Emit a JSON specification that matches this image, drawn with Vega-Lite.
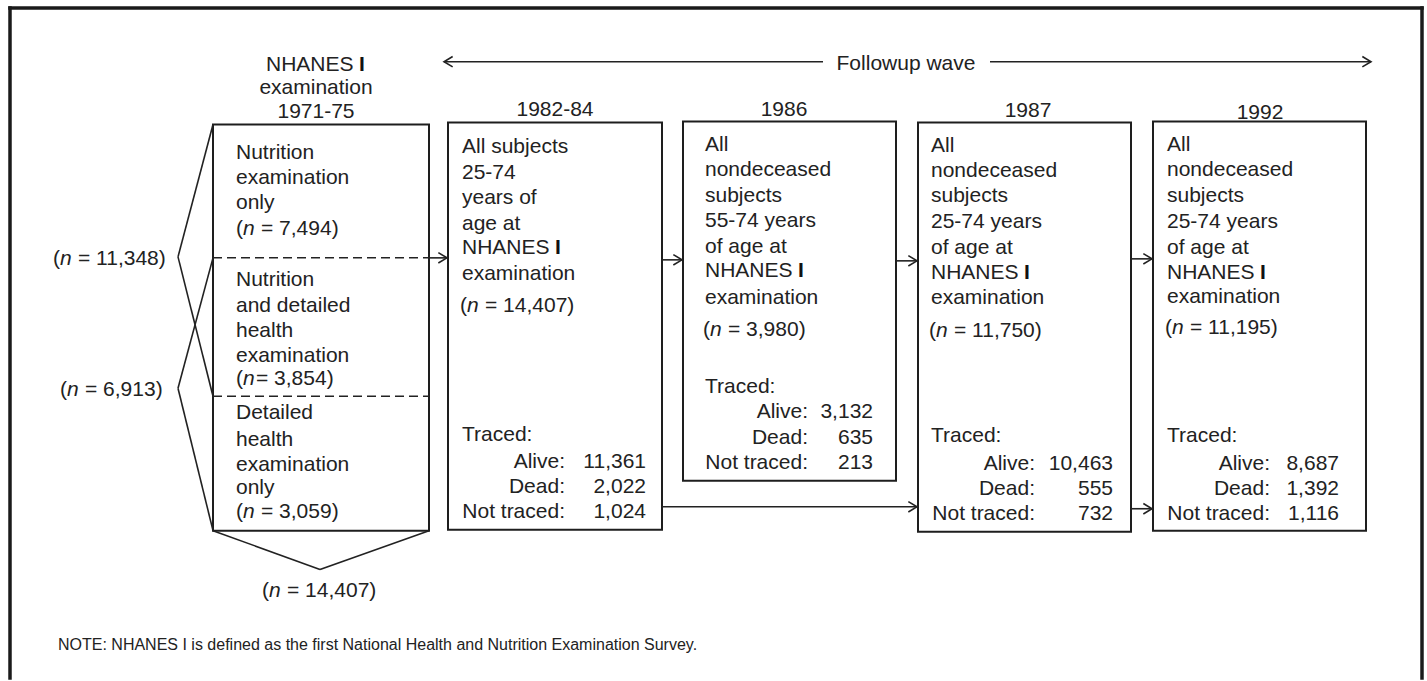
{
  "$schema": "https://vega.github.io/schema/vega-lite/v6.json",
  "width": 1427,
  "height": 681,
  "padding": 0,
  "autosize": {"type": "fit", "contains": "padding"},
  "background": "white",
  "config": {"view": {"stroke": null}},
  "datasets": {
    "borderLines": [
      {"x": 10, "y": 8, "x2": 1422, "y2": 8},
      {"x": 10, "y": 8, "x2": 10, "y2": 681},
      {"x": 1422, "y": 8, "x2": 1422, "y2": 681}
    ],
    "boxes": [
      {"box": "NHANES I 1971-75", "x1": 213, "x2": 429, "y1": 125, "y2": 533},
      {"box": "1982-84", "x1": 448, "x2": 662, "y1": 123, "y2": 532},
      {"box": "1986", "x1": 683, "x2": 896, "y1": 122, "y2": 483},
      {"box": "1987", "x1": 918, "x2": 1131, "y1": 123, "y2": 534},
      {"box": "1992", "x1": 1153, "x2": 1366, "y1": 122, "y2": 533}
    ],
    "dashedLines": [
      {"x": 213, "y": 259, "x2": 429, "y2": 259},
      {"x": 213, "y": 398, "x2": 429, "y2": 398}
    ],
    "solidLines": [
      {"x": 213, "y": 125, "x2": 178, "y2": 258},
      {"x": 178, "y": 258, "x2": 213, "y2": 398},
      {"x": 213, "y": 259, "x2": 178, "y2": 390},
      {"x": 178, "y": 390, "x2": 213, "y2": 533},
      {"x": 213, "y": 533, "x2": 320, "y2": 572},
      {"x": 320, "y": 572, "x2": 429, "y2": 533},
      {"x": 429, "y": 259, "x2": 447, "y2": 259},
      {"x": 662, "y": 261, "x2": 682, "y2": 261},
      {"x": 896, "y": 262, "x2": 917, "y2": 262},
      {"x": 1131, "y": 260, "x2": 1152, "y2": 260},
      {"x": 662, "y": 509, "x2": 917, "y2": 509},
      {"x": 1131, "y": 511, "x2": 1152, "y2": 511},
      {"x": 444, "y": 62, "x2": 823, "y2": 62},
      {"x": 990, "y": 62, "x2": 1371, "y2": 62}
    ],
    "arrowHeads": [
      {"x": 447, "y": 259, "direction": "right"},
      {"x": 682, "y": 261, "direction": "right"},
      {"x": 917, "y": 262, "direction": "right"},
      {"x": 1152, "y": 260, "direction": "right"},
      {"x": 917, "y": 509, "direction": "right"},
      {"x": 1152, "y": 511, "direction": "right"},
      {"x": 1371, "y": 62, "direction": "right"},
      {"x": 444, "y": 62, "direction": "left"}
    ],
    "centeredText": [
      {"text": "examination", "x": 316, "y": 86},
      {"text": "1971-75", "x": 316, "y": 110},
      {"text": "Followup wave", "x": 906, "y": 62},
      {"text": "1982-84", "x": 555, "y": 108},
      {"text": "1986", "x": 784, "y": 108},
      {"text": "1987", "x": 1028, "y": 109},
      {"text": "1992", "x": 1260, "y": 111}
    ],
    "nhanesLabels": [
      {"x": 266, "y": 63},
      {"x": 462, "y": 247},
      {"x": 705, "y": 270},
      {"x": 931, "y": 272},
      {"x": 1167, "y": 272}
    ],
    "sampleSizes": [
      {"x": 236, "y": 228, "rest": "= 7,494)", "gap": "wide"},
      {"x": 236, "y": 379, "rest": "= 3,854)", "gap": "tight"},
      {"x": 236, "y": 512, "rest": "= 3,059)", "gap": "wide"},
      {"x": 460, "y": 305, "rest": "= 14,407)", "gap": "wide"},
      {"x": 703, "y": 329, "rest": "= 3,980)", "gap": "wide"},
      {"x": 929, "y": 330, "rest": "= 11,750)", "gap": "wide"},
      {"x": 1165, "y": 327, "rest": "= 11,195)", "gap": "wide"},
      {"x": 53, "y": 258, "rest": "= 11,348)", "gap": "wide"},
      {"x": 60, "y": 390, "rest": "= 6,913)", "gap": "wide"},
      {"x": 262, "y": 592, "rest": "= 14,407)", "gap": "wide"}
    ],
    "boxText": [
      {"text": "Nutrition", "x": 236, "y": 152},
      {"text": "examination", "x": 236, "y": 177},
      {"text": "only", "x": 236, "y": 202},
      {"text": "Nutrition", "x": 236, "y": 279},
      {"text": "and detailed", "x": 236, "y": 305},
      {"text": "health", "x": 236, "y": 330},
      {"text": "examination", "x": 236, "y": 356},
      {"text": "Detailed", "x": 236, "y": 413},
      {"text": "health", "x": 236, "y": 440},
      {"text": "examination", "x": 236, "y": 465},
      {"text": "only", "x": 236, "y": 488},
      {"text": "All subjects", "x": 462, "y": 146},
      {"text": "25-74", "x": 462, "y": 172},
      {"text": "years of", "x": 462, "y": 197},
      {"text": "age at", "x": 462, "y": 223},
      {"text": "examination", "x": 462, "y": 273},
      {"text": "Traced:", "x": 462, "y": 435},
      {"text": "All", "x": 705, "y": 144},
      {"text": "nondeceased", "x": 705, "y": 169},
      {"text": "subjects", "x": 705, "y": 195},
      {"text": "55-74 years", "x": 705, "y": 220},
      {"text": "of age at", "x": 705, "y": 246},
      {"text": "examination", "x": 705, "y": 297},
      {"text": "Traced:", "x": 705, "y": 387},
      {"text": "All", "x": 931, "y": 145},
      {"text": "nondeceased", "x": 931, "y": 170},
      {"text": "subjects", "x": 931, "y": 195},
      {"text": "25-74 years", "x": 931, "y": 221},
      {"text": "of age at", "x": 931, "y": 247},
      {"text": "examination", "x": 931, "y": 297},
      {"text": "Traced:", "x": 931, "y": 436},
      {"text": "All", "x": 1167, "y": 144},
      {"text": "nondeceased", "x": 1167, "y": 169},
      {"text": "subjects", "x": 1167, "y": 195},
      {"text": "25-74 years", "x": 1167, "y": 221},
      {"text": "of age at", "x": 1167, "y": 247},
      {"text": "examination", "x": 1167, "y": 296},
      {"text": "Traced:", "x": 1167, "y": 436}
    ],
    "outcomes": [
      {"wave": "1982-84", "outcome": "Alive:", "count": "11,361", "labelRight": 565, "valueRight": 646, "y": 462},
      {"wave": "1982-84", "outcome": "Dead:", "count": "2,022", "labelRight": 565, "valueRight": 646, "y": 487},
      {"wave": "1982-84", "outcome": "Not traced:", "count": "1,024", "labelRight": 565, "valueRight": 646, "y": 512},
      {"wave": "1986", "outcome": "Alive:", "count": "3,132", "labelRight": 808, "valueRight": 873, "y": 412},
      {"wave": "1986", "outcome": "Dead:", "count": "635", "labelRight": 808, "valueRight": 873, "y": 438},
      {"wave": "1986", "outcome": "Not traced:", "count": "213", "labelRight": 808, "valueRight": 873, "y": 463},
      {"wave": "1987", "outcome": "Alive:", "count": "10,463", "labelRight": 1035, "valueRight": 1113, "y": 464},
      {"wave": "1987", "outcome": "Dead:", "count": "555", "labelRight": 1035, "valueRight": 1113, "y": 489},
      {"wave": "1987", "outcome": "Not traced:", "count": "732", "labelRight": 1035, "valueRight": 1113, "y": 514},
      {"wave": "1992", "outcome": "Alive:", "count": "8,687", "labelRight": 1270, "valueRight": 1339, "y": 464},
      {"wave": "1992", "outcome": "Dead:", "count": "1,392", "labelRight": 1270, "valueRight": 1339, "y": 489},
      {"wave": "1992", "outcome": "Not traced:", "count": "1,116", "labelRight": 1270, "valueRight": 1339, "y": 514}
    ],
    "notes": [
      {"text": "NOTE: NHANES I is defined as the first National Health and Nutrition Examination Survey.", "x": 58, "y": 647}
    ]
  },
  "layer": [
    {
      "data": {"name": "borderLines"},
      "mark": {"type": "rule", "stroke": "#1a1a1a", "strokeWidth": 3.5, "strokeCap": "square"},
      "encoding": {
        "x": {"field": "x", "type": "quantitative", "scale": {"domain": [0, 1427], "nice": false, "zero": false}, "axis": null},
        "y": {"field": "y", "type": "quantitative", "scale": {"domain": [0, 681], "nice": false, "zero": false, "reverse": true}, "axis": null},
        "x2": {"field": "x2"},
        "y2": {"field": "y2"}
      }
    },
    {
      "data": {"name": "boxes"},
      "mark": {"type": "rect", "fillOpacity": 0, "stroke": "#1e1e1e", "strokeWidth": 2},
      "encoding": {
        "x": {"field": "x1", "type": "quantitative", "axis": null},
        "x2": {"field": "x2"},
        "y": {"field": "y1", "type": "quantitative", "axis": null},
        "y2": {"field": "y2"}
      }
    },
    {
      "data": {"name": "dashedLines"},
      "mark": {"type": "rule", "stroke": "#222", "strokeWidth": 1.5, "strokeDash": [9, 5]},
      "encoding": {
        "x": {"field": "x", "type": "quantitative", "axis": null},
        "y": {"field": "y", "type": "quantitative", "axis": null},
        "x2": {"field": "x2"},
        "y2": {"field": "y2"}
      }
    },
    {
      "data": {"name": "solidLines"},
      "mark": {"type": "rule", "stroke": "#222", "strokeWidth": 1.6},
      "encoding": {
        "x": {"field": "x", "type": "quantitative", "axis": null},
        "y": {"field": "y", "type": "quantitative", "axis": null},
        "x2": {"field": "x2"},
        "y2": {"field": "y2"}
      }
    },
    {
      "data": {"name": "arrowHeads"},
      "transform": [{"filter": "datum.direction === 'right'"}],
      "mark": {"type": "point", "shape": "M-1,-0.6L0,0L-1,0.6", "filled": false, "stroke": "#222", "strokeWidth": 1.6, "size": 300, "opacity": 1},
      "encoding": {
        "x": {"field": "x", "type": "quantitative", "axis": null},
        "y": {"field": "y", "type": "quantitative", "axis": null}
      }
    },
    {
      "data": {"name": "arrowHeads"},
      "transform": [{"filter": "datum.direction === 'left'"}],
      "mark": {"type": "point", "shape": "M1,-0.6L0,0L1,0.6", "filled": false, "stroke": "#222", "strokeWidth": 1.6, "size": 300, "opacity": 1},
      "encoding": {
        "x": {"field": "x", "type": "quantitative", "axis": null},
        "y": {"field": "y", "type": "quantitative", "axis": null}
      }
    },
    {
      "data": {"name": "centeredText"},
      "mark": {"type": "text", "align": "center", "baseline": "middle", "dy": 2, "font": "Liberation Sans", "fontSize": 21, "fill": "#222"},
      "encoding": {
        "x": {"field": "x", "type": "quantitative", "axis": null},
        "y": {"field": "y", "type": "quantitative", "axis": null},
        "text": {"field": "text"}
      }
    },
    {
      "data": {"name": "boxText"},
      "mark": {"type": "text", "align": "left", "baseline": "middle", "dy": 2, "font": "Liberation Sans", "fontSize": 21, "fill": "#222"},
      "encoding": {
        "x": {"field": "x", "type": "quantitative", "axis": null},
        "y": {"field": "y", "type": "quantitative", "axis": null},
        "text": {"field": "text"}
      }
    },
    {
      "data": {"name": "nhanesLabels"},
      "mark": {"type": "text", "align": "left", "baseline": "middle", "dy": 2, "font": "Liberation Sans", "fontSize": 21, "fill": "#222"},
      "encoding": {
        "x": {"field": "x", "type": "quantitative", "axis": null},
        "y": {"field": "y", "type": "quantitative", "axis": null},
        "text": {"value": "NHANES"}
      }
    },
    {
      "data": {"name": "nhanesLabels"},
      "mark": {"type": "text", "align": "left", "baseline": "middle", "dx": 93, "dy": 2, "font": "Liberation Sans", "fontWeight": "bold", "fontSize": 21, "fill": "#111"},
      "encoding": {
        "x": {"field": "x", "type": "quantitative", "axis": null},
        "y": {"field": "y", "type": "quantitative", "axis": null},
        "text": {"value": "I"}
      }
    },
    {
      "data": {"name": "sampleSizes"},
      "mark": {"type": "text", "align": "left", "baseline": "middle", "dy": 2, "font": "Liberation Sans", "fontSize": 21, "fill": "#222"},
      "encoding": {
        "x": {"field": "x", "type": "quantitative", "axis": null},
        "y": {"field": "y", "type": "quantitative", "axis": null},
        "text": {"value": "("}
      }
    },
    {
      "data": {"name": "sampleSizes"},
      "mark": {"type": "text", "align": "left", "baseline": "middle", "dx": 7, "dy": 2, "font": "Liberation Sans", "fontStyle": "italic", "fontSize": 21, "fill": "#222"},
      "encoding": {
        "x": {"field": "x", "type": "quantitative", "axis": null},
        "y": {"field": "y", "type": "quantitative", "axis": null},
        "text": {"value": "n"}
      }
    },
    {
      "data": {"name": "sampleSizes"},
      "transform": [{"filter": "datum.gap === 'wide'"}],
      "mark": {"type": "text", "align": "left", "baseline": "middle", "dx": 25, "dy": 2, "font": "Liberation Sans", "fontSize": 21, "fill": "#222"},
      "encoding": {
        "x": {"field": "x", "type": "quantitative", "axis": null},
        "y": {"field": "y", "type": "quantitative", "axis": null},
        "text": {"field": "rest"}
      }
    },
    {
      "data": {"name": "sampleSizes"},
      "transform": [{"filter": "datum.gap === 'tight'"}],
      "mark": {"type": "text", "align": "left", "baseline": "middle", "dx": 20, "dy": 2, "font": "Liberation Sans", "fontSize": 21, "fill": "#222"},
      "encoding": {
        "x": {"field": "x", "type": "quantitative", "axis": null},
        "y": {"field": "y", "type": "quantitative", "axis": null},
        "text": {"field": "rest"}
      }
    },
    {
      "data": {"name": "outcomes"},
      "mark": {"type": "text", "align": "right", "baseline": "middle", "dy": 2, "font": "Liberation Sans", "fontSize": 21, "fill": "#222"},
      "encoding": {
        "x": {"field": "labelRight", "type": "quantitative", "axis": null},
        "y": {"field": "y", "type": "quantitative", "axis": null},
        "text": {"field": "outcome"}
      }
    },
    {
      "data": {"name": "outcomes"},
      "mark": {"type": "text", "align": "right", "baseline": "middle", "dy": 2, "font": "Liberation Sans", "fontSize": 21, "fill": "#222"},
      "encoding": {
        "x": {"field": "valueRight", "type": "quantitative", "axis": null},
        "y": {"field": "y", "type": "quantitative", "axis": null},
        "text": {"field": "count"}
      }
    },
    {
      "data": {"name": "notes"},
      "mark": {"type": "text", "align": "left", "baseline": "middle", "dy": 1, "font": "Liberation Sans", "fontSize": 16, "fill": "#222"},
      "encoding": {
        "x": {"field": "x", "type": "quantitative", "axis": null},
        "y": {"field": "y", "type": "quantitative", "axis": null},
        "text": {"field": "text"}
      }
    }
  ]
}
